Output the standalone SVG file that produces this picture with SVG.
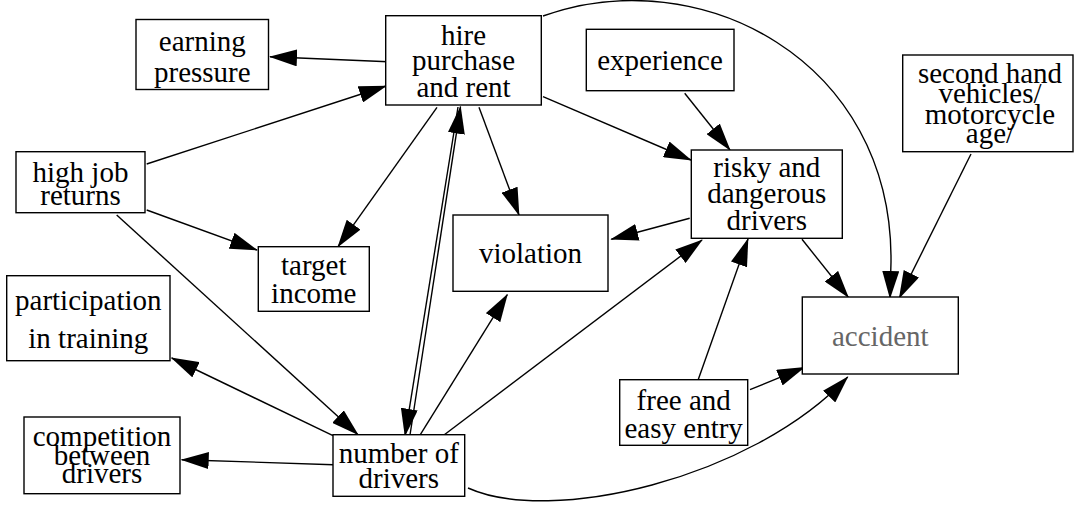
<svg xmlns="http://www.w3.org/2000/svg" width="1075" height="506" viewBox="0 0 1075 506">
  <style>
    .box { fill: #ffffff; stroke: #000000; stroke-width: 1.4; }
    .lbl { font-family: "Liberation Serif", "Times New Roman", serif; font-size: 29px; fill: #000000; text-anchor: middle; }
    .grey { fill: #666666; }
    .edge { fill: none; stroke: #000000; stroke-width: 1.4; marker-end: url(#ah); }
  </style>
  <defs>
    <marker id="ah" viewBox="0 0 28 17" refX="27" refY="8.5" markerWidth="28" markerHeight="17" markerUnits="userSpaceOnUse" orient="auto">
      <path d="M0,0 L28,8.5 L0,17 z" fill="#000000"/>
    </marker>
  </defs>
  <rect width="1075" height="506" fill="#ffffff"/>

  <!-- connectors -->
  <g id="edges">
    <path class="edge" d="M388,61.7 L270,56.7"/>
    <path class="edge" d="M146.7,164 L386,86"/>
    <path class="edge" d="M146.7,210 L257,250"/>
    <path class="edge" d="M116.7,215 L358,434.7"/>
    <path class="edge" d="M437,107.3 L338,246.7"/>
    <path class="edge" d="M479,107.3 L519,215"/>
    <path class="edge" d="M543,96.7 L691,160"/>
    <path class="edge" d="M458,107 L405,435.7"/>
    <path class="edge" d="M410,435 L460.5,106.7"/>
    <path class="edge" d="M684.7,93.3 L730,150"/>
    <path class="edge" d="M689.7,218.3 L611.3,239.3"/>
    <path class="edge" d="M802,239.3 L848.3,297.3"/>
    <path class="edge" d="M543,16 C700,-40 893,60 891,262 L890,298"/>
    <path class="edge" d="M971,154 L899.3,298"/>
    <path class="edge" d="M698,380.3 L748,239"/>
    <path class="edge" d="M750,389.7 L804.3,367.3"/>
    <path class="edge" d="M333,435.7 L171.7,358"/>
    <path class="edge" d="M333.3,464.7 L181.7,459.7"/>
    <path class="edge" d="M419.7,435.7 L507.3,294.7"/>
    <path class="edge" d="M443,435.7 L702,240"/>
    <path class="edge" d="M468,488 C550,525 750,480 847.7,377"/>
  </g>

  <g id="earning-pressure">
    <rect class="box" x="136" y="19.5" width="132.5" height="70"/>
    <text class="lbl" x="202.3" y="51">earning</text>
    <text class="lbl" x="202.3" y="82">pressure</text>
  </g>

  <g id="hire-purchase">
    <rect class="box" x="385.7" y="15.7" width="155.6" height="89.3"/>
    <text class="lbl" x="463.5" y="45">hire</text>
    <text class="lbl" x="463.5" y="70">purchase</text>
    <text class="lbl" x="463.5" y="96.5">and rent</text>
  </g>

  <g id="high-job-returns">
    <rect class="box" x="16" y="151.7" width="129" height="61"/>
    <text class="lbl" x="80.5" y="181.5">high job</text>
    <text class="lbl" x="80.5" y="205">returns</text>
  </g>

  <g id="target-income">
    <rect class="box" x="258.3" y="246.7" width="111" height="64.6"/>
    <text class="lbl" x="313.8" y="274.7">target</text>
    <text class="lbl" x="313.8" y="303">income</text>
  </g>

  <g id="violation">
    <rect class="box" x="453" y="215" width="155" height="76.3"/>
    <text class="lbl" x="530.5" y="263">violation</text>
  </g>

  <g id="experience">
    <rect class="box" x="586.3" y="29.3" width="147.7" height="61.4"/>
    <text class="lbl" x="660" y="70">experience</text>
  </g>

  <g id="risky-drivers">
    <rect class="box" x="691.3" y="150" width="151" height="88.3"/>
    <text class="lbl" x="766.8" y="177">risky and</text>
    <text class="lbl" x="766.8" y="203">dangerous</text>
    <text class="lbl" x="766.8" y="230">drivers</text>
  </g>

  <g id="second-hand">
    <rect class="box" x="902.7" y="55" width="170.3" height="96.7"/>
    <text class="lbl" x="990" y="83.3">second hand</text>
    <text class="lbl" x="990" y="103.3">vehicles/</text>
    <text class="lbl" x="990" y="124">motorcycle</text>
    <text class="lbl" x="990" y="142.7">age/</text>
  </g>

  <g id="participation">
    <rect class="box" x="6.7" y="275.7" width="163.3" height="85"/>
    <text class="lbl" x="88.3" y="309.7">participation</text>
    <text class="lbl" x="88.3" y="348">in training</text>
  </g>

  <g id="competition">
    <rect class="box" x="24" y="417" width="156" height="76.7"/>
    <text class="lbl" x="102" y="446.3">competition</text>
    <text class="lbl" x="102" y="464.7">between</text>
    <text class="lbl" x="102" y="483">drivers</text>
  </g>

  <g id="number-of-drivers">
    <rect class="box" x="333" y="434.7" width="131.7" height="61.6"/>
    <text class="lbl" x="398.8" y="463">number of</text>
    <text class="lbl" x="398.8" y="488">drivers</text>
  </g>

  <g id="free-entry">
    <rect class="box" x="619.7" y="379.7" width="128" height="65.6"/>
    <text class="lbl" x="683.7" y="409.7">free and</text>
    <text class="lbl" x="683.7" y="438">easy entry</text>
  </g>

  <g id="accident">
    <rect class="box" x="802.3" y="297" width="156" height="77"/>
    <text class="lbl grey" x="880.3" y="346.3">accident</text>
  </g>
</svg>
